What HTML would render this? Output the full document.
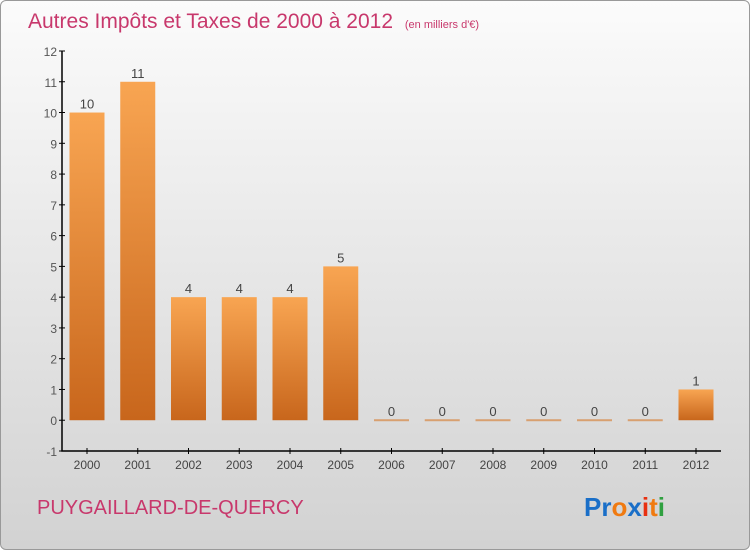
<!DOCTYPE html>
<html><head><meta charset="utf-8"><style>
body{margin:0;width:750px;height:550px;overflow:hidden;font-family:"Liberation Sans",sans-serif}
#wrap{position:absolute;left:0;top:0;width:748px;height:548px;border:1px solid #999;border-radius:6px;background:linear-gradient(#fbfbfb,#d2d2d2);overflow:hidden}
</style></head><body>
<div id="wrap">
<svg width="750" height="550">
<defs><linearGradient id="bg" x1="0" y1="0" x2="0" y2="1"><stop offset="0" stop-color="#f8a552"/><stop offset="1" stop-color="#c8661c"/></linearGradient></defs>
<text x="27" y="27" font-size="21" fill="#c8386c">Autres Impôts et Taxes de 2000 à 2012 <tspan font-size="11" dx="6">(en milliers d'€)</tspan></text>
<g id="plot"></g>
<text x="36" y="513" font-size="20" fill="#c8386c">PUYGAILLARD-DE-QUERCY</text>
<text x="583" y="515" font-size="26" font-weight="bold"><tspan fill="#1a6fc8">Pr</tspan><tspan fill="#f07a10">o</tspan><tspan fill="#1a6fc8">x</tspan><tspan fill="#e83010">i</tspan><tspan fill="#f07a10">t</tspan><tspan fill="#30a040">i</tspan></text>
</svg></div>
<script>
const years=["2000","2001","2002","2003","2004","2005","2006","2007","2008","2009","2010","2011","2012"];
const values=[10,11,4,4,4,5,0,0,0,0,0,0,1];
const yTicks=[-1,0,1,2,3,4,5,6,7,8,9,10,11,12];
const NS="http://www.w3.org/2000/svg";
const g=document.getElementById('plot');
const y=v=>450-(v+1)*400/13;
const x=i=>86+i*50.75;
function mk(t,a,txt){const e=document.createElementNS(NS,t);for(const k in a)e.setAttribute(k,a[k]);if(txt!==undefined)e.textContent=txt;g.appendChild(e);return e;}
let ax=mk('path',{d:'M61,50V450H720',stroke:'#000','stroke-width':1.5,fill:'none'});


yTicks.forEach(v=>{
 mk('line',{x1:58,x2:64,y1:y(v),y2:y(v),stroke:'#000'});
 let t=mk('text',{x:56,y:y(v)+5,'text-anchor':'end','font-size':12,fill:'#555'},v);
 
 
});
years.forEach((yr,i)=>{
 mk('line',{x1:x(i),x2:x(i),y1:447,y2:453,stroke:'#000'});
 let t=mk('text',{x:x(i),y:468,'text-anchor':'middle','font-size':12,fill:'#444'},yr);
 
 
 const v=values[i];
 const top=y(v),h=Math.max(y(0)-top,1.5);
 let b=mk('rect',{x:x(i)-17.5,y:v>0?top:y(0)-1,width:35,height:v>0?h:2,fill:v>0?'url(#bg)':'#d8a070'});
 
 
 let l=mk('text',{x:x(i),y:top-4,'text-anchor':'middle','font-size':13,fill:'#444'},v);
 
 
});
</script>
</body></html>
